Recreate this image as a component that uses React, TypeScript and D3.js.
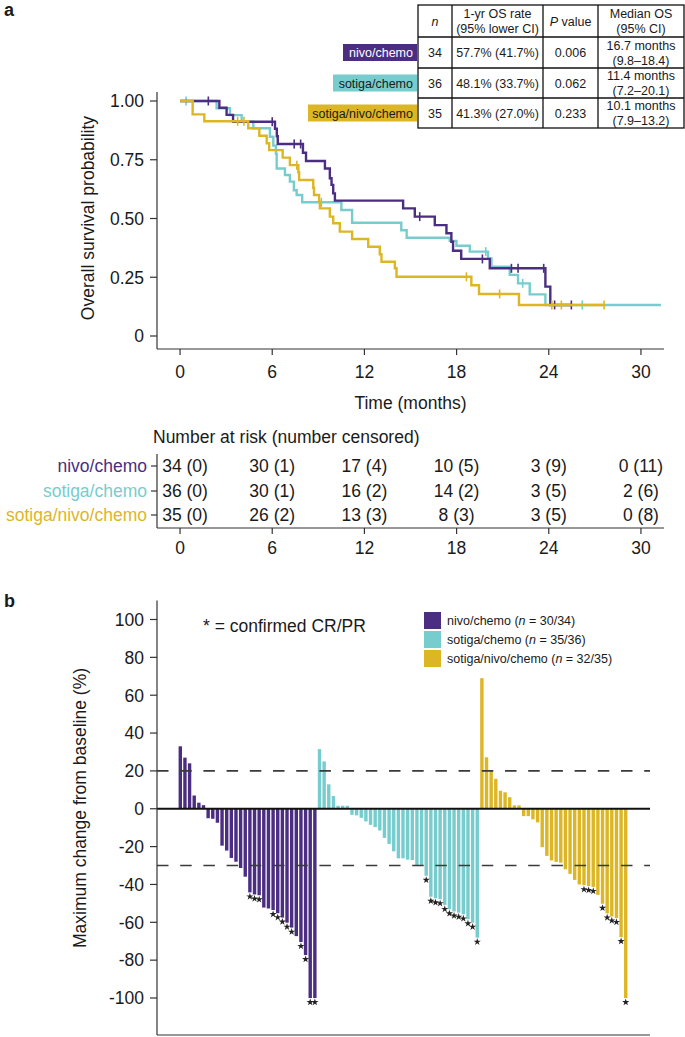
import React from "react";
import * as d3 from "d3";

const W = 685;
const H = 1037;
const FONT = "'Liberation Sans', Arial, Helvetica, sans-serif";

const groups = ["nivo/chemo", "sotiga/chemo", "sotiga/nivo/chemo"];
const groupColors = ["#4b2d82", "#77cdcd", "#ddb625"];
const boxTextColors = ["#ffffff", "#1a1a1a", "#1a1a1a"];

// ---- KM data (time in months, survival after each drop) ----
const nivoSteps: [number, number][] = [[2.56, 0.971], [3.03, 0.941], [3.45, 0.912], [6.18, 0.882], [6.3, 0.85], [6.36, 0.817], [8.0, 0.78], [8.2, 0.745], [9.43, 0.713], [9.75, 0.671], [9.86, 0.643], [9.97, 0.607], [10.08, 0.576], [14.52, 0.543], [15.28, 0.508], [16.58, 0.472], [17.34, 0.437], [17.66, 0.401], [17.77, 0.363], [18.3, 0.328], [20.16, 0.288], [23.78, 0.21], [24.1, 0.132]];
const nivoCensor = [1.84, 6.0, 7.43, 7.85, 15.6, 19.68, 21.57, 22.0, 23.67, 24.38, 25.47];
const sotigaSteps: [number, number][] = [[2.38, 0.969], [3.25, 0.94], [4.01, 0.912], [4.77, 0.884], [5.85, 0.848], [6.07, 0.81], [6.24, 0.775], [6.29, 0.713], [6.83, 0.685], [7.15, 0.657], [7.41, 0.62], [7.59, 0.6], [7.95, 0.569], [10.5, 0.536], [11.2, 0.482], [14.4, 0.45], [14.75, 0.418], [17.55, 0.405], [17.99, 0.384], [18.86, 0.359], [20.05, 0.33], [20.27, 0.295], [21.46, 0.26], [22.0, 0.224], [22.76, 0.177], [23.78, 0.132]];
const sotigaCensor = [0.39, 9.2, 19.9, 22.3, 26.18];
const tripleSteps: [number, number][] = [[0.82, 0.943], [1.58, 0.914], [4.44, 0.884], [5.16, 0.852], [5.64, 0.82], [5.8, 0.791], [6.68, 0.759], [7.15, 0.727], [7.7, 0.697], [7.75, 0.664], [8.67, 0.631], [8.72, 0.6], [9.05, 0.572], [9.1, 0.543], [9.75, 0.508], [9.97, 0.48], [10.4, 0.444], [11.2, 0.413], [12.25, 0.38], [13.0, 0.348], [13.11, 0.316], [13.98, 0.288], [14.09, 0.252], [18.96, 0.216], [19.46, 0.179], [22.06, 0.132]];
const tripleCensor = [3.75, 4.16, 7.6, 18.64, 20.8, 24.2, 24.82, 27.6];
const kmEnd = [25.47, 31.3, 27.6];

const kmYTicks = [0, 0.25, 0.5, 0.75, 1];
const kmYTickLabels = ["0", "0.25", "0.50", "0.75", "1.00"];
const timeTicks = [0, 6, 12, 18, 24, 30];

// ---- summary table ----
const tableN = [34, 36, 35];
const oneYrRate = ["57.7% (41.7%)", "48.1% (33.7%)", "41.3% (27.0%)"];
const pValues = ["0.006", "0.062", "0.233"];
const medianOS = ["16.7 months", "11.4 months", "10.1 months"];
const medianCI = ["(9.8–18.4)", "(7.2–20.1)", "(7.9–13.2)"];

// ---- number at risk ----
const nivoAtRisk = [34, 30, 17, 10, 3, 0];
const nivoCensored = [0, 1, 4, 5, 9, 11];
const sotigaAtRisk = [36, 30, 16, 14, 3, 2];
const sotigaCensored = [0, 1, 2, 2, 5, 6];
const tripleAtRisk = [35, 26, 13, 8, 3, 0];
const tripleCensored = [0, 2, 3, 3, 5, 8];

// ---- waterfall (best % change from baseline) ----
const nivoChange = [33, 27, 24, 7, 3.2, 1.9, -5, -5.3, -7.4, -19.5, -22.1, -26, -28, -31.3, -35.9, -44.2, -45.3, -45.7, -52.2, -52.7, -53.5, -55.2, -57.5, -60.2, -62.8, -67.3, -70.4, -77.3, -100, -100];
const nivoConfirmed = [15, 16, 17, 20, 21, 22, 23, 24, 26, 27, 28, 29];
const sotigaChange = [31.5, 25, 12.9, 6.7, 1.6, 1.6, 1.6, -3.2, -3.5, -4.8, -6.7, -8.5, -9.7, -11.5, -15.4, -18.6, -22.5, -26.2, -26.2, -26.9, -27.1, -30.2, -30.2, -35.4, -46.5, -47.3, -47.8, -50.8, -53.1, -54.3, -54.9, -55.8, -58.4, -60.2, -68.1];
const sotigaConfirmed = [23, 24, 25, 26, 27, 28, 29, 30, 31, 32, 33, 34];
const tripleChange = [69, 27.2, 20, 15.8, 9.5, 8.7, 6.1, 1.8, 1.8, -3.9, -3.9, -5.6, -7.2, -20.3, -24.9, -27.3, -28.1, -28.5, -32, -34.4, -37.6, -40, -40.4, -40.8, -41.3, -45.5, -50.2, -55.3, -56.9, -57.7, -67.8, -100];
const tripleConfirmed = [22, 23, 24, 26, 27, 28, 29, 30, 31];
const evaluable = ["30/34", "35/36", "32/35"];
const wfTicks = [100, 80, 60, 40, 20, 0, -20, -40, -60, -80, -100];
const refLines = [20, -30];

const kmSeries = [
  { steps: nivoSteps, censor: nivoCensor, end: kmEnd[0], color: groupColors[0] },
  { steps: sotigaSteps, censor: sotigaCensor, end: kmEnd[1], color: groupColors[1] },
  { steps: tripleSteps, censor: tripleCensor, end: kmEnd[2], color: groupColors[2] },
];
const riskRows = [
  { atRisk: nivoAtRisk, censored: nivoCensored },
  { atRisk: sotigaAtRisk, censored: sotigaCensored },
  { atRisk: tripleAtRisk, censored: tripleCensored },
];
const wfGroups = [
  { values: nivoChange, confirmed: nivoConfirmed },
  { values: sotigaChange, confirmed: sotigaConfirmed },
  { values: tripleChange, confirmed: tripleConfirmed },
];

function survAt(steps: [number, number][], t: number) {
  let s = 1;
  for (const [ti, si] of steps) if (ti <= t) s = si;
  return s;
}

const fmtTick = (v: number) => (v < 0 ? "-" + Math.abs(v) : String(v));

export default function App() {
  // KM scales
  const kmX = d3.scaleLinear().domain([-1.5, 31.5]).range([157, 664]);
  const kmY = d3.scaleLinear().domain([0, 1]).range([336, 101]);
  const line = d3
    .line<[number, number]>()
    .x((d) => kmX(d[0]))
    .y((d) => kmY(d[1]))
    .curve(d3.curveStepAfter);
  const kmAxisY = 349;

  // table geometry
  const colX = [418, 452, 543, 598, 684];
  const rowY = [5, 37, 68, 98, 128];
  const boxLeft = [343, 333, 308];

  // risk table
  const riskRowY = [466, 491, 515];
  const riskAxisY = 528;

  // waterfall
  const wfX = d3.scaleLinear().domain([-5.02, 101.23]).range([157, 650]);
  const wfY = d3.scaleLinear().domain([-100, 100]).range([998, 619.5]);
  const star = d3.symbol().type(d3.symbolStar).size(16)() as string;

  const bars: { x: number; v: number; color: string; confirmed: boolean; key: string }[] = [];
  let idx = 0;
  wfGroups.forEach((g, gi) => {
    g.values.forEach((v, i) => {
      bars.push({ x: wfX(idx), v, color: groupColors[gi], confirmed: g.confirmed.includes(i), key: `${gi}-${i}` });
      idx++;
    });
  });

  const drawOrder = [1, 0, 2];
  const txt = { fontFamily: FONT, fill: "#1a1a1a" } as const;

  return (
    <>
      <style>{`body{margin:0}`}</style>
      <svg width={W} height={H} style={{ display: "block", background: "#fff" }} fontFamily={FONT}>
        {/* panel labels */}
        <text x={4} y={16} fontSize={18} fontWeight="bold" {...txt}>a</text>
        <text x={4} y={607} fontSize={18} fontWeight="bold" {...txt}>b</text>

        {/* ---------- KM summary table ---------- */}
        <g>
          {groups.map((g, i) => {
            const yc = (rowY[i + 1] + rowY[i + 2]) / 2;
            return (
              <g key={g}>
                <rect x={boxLeft[i]} y={yc - 8.5} width={417 - boxLeft[i]} height={17} fill={groupColors[i]} />
                <text x={413} y={yc + 4.5} fontSize={12.5} textAnchor="end" fill={boxTextColors[i]} fontFamily={FONT}>{g}</text>
              </g>
            );
          })}
          <rect x={colX[0]} y={rowY[0]} width={colX[4] - colX[0]} height={rowY[4] - rowY[0]} fill="none" stroke="#111" strokeWidth={1.3} />
          {colX.slice(1, 4).map((x) => (
            <line key={x} x1={x} x2={x} y1={rowY[0]} y2={rowY[4]} stroke="#111" strokeWidth={1.3} />
          ))}
          {rowY.slice(1, 4).map((y) => (
            <line key={y} x1={colX[0]} x2={colX[4]} y1={y} y2={y} stroke="#111" strokeWidth={1.3} />
          ))}
          {/* header */}
          {(() => {
            const cx = (c: number) => (colX[c] + colX[c + 1]) / 2;
            const yc = (rowY[0] + rowY[1]) / 2;
            return (
              <g fontSize={12.5} textAnchor="middle" {...txt}>
                <text x={cx(0)} y={yc + 4.5} fontStyle="italic">n</text>
                <text x={cx(1)} y={yc - 3}>1-yr OS rate</text>
                <text x={cx(1)} y={yc + 12}>(95% lower CI)</text>
                <text x={cx(2)} y={yc + 4.5}><tspan fontStyle="italic">P</tspan> value</text>
                <text x={cx(3)} y={yc - 3}>Median OS</text>
                <text x={cx(3)} y={yc + 12}>(95% CI)</text>
              </g>
            );
          })()}
          {groups.map((g, i) => {
            const cx = (c: number) => (colX[c] + colX[c + 1]) / 2;
            const yc = (rowY[i + 1] + rowY[i + 2]) / 2;
            return (
              <g key={g} fontSize={12.5} textAnchor="middle" {...txt}>
                <text x={cx(0)} y={yc + 4.5}>{tableN[i]}</text>
                <text x={cx(1)} y={yc + 4.5}>{oneYrRate[i]}</text>
                <text x={cx(2)} y={yc + 4.5}>{pValues[i]}</text>
                <text x={cx(3)} y={yc - 3}>{medianOS[i]}</text>
                <text x={cx(3)} y={yc + 12}>{medianCI[i]}</text>
              </g>
            );
          })}
        </g>

        {/* ---------- KM axes ---------- */}
        <line x1={157} x2={157} y1={92} y2={kmAxisY} stroke="#333" strokeWidth={1.2} />
        <line x1={157} x2={664} y1={kmAxisY} y2={kmAxisY} stroke="#333" strokeWidth={1.2} />
        {kmYTicks.map((t, i) => (
          <g key={t}>
            <line x1={150} x2={157} y1={kmY(t)} y2={kmY(t)} stroke="#333" strokeWidth={1.2} />
            <text x={144} y={kmY(t)} dy="0.36em" fontSize={17.5} textAnchor="end" {...txt}>{kmYTickLabels[i]}</text>
          </g>
        ))}
        {timeTicks.map((t) => (
          <g key={t}>
            <line x1={kmX(t)} x2={kmX(t)} y1={kmAxisY} y2={kmAxisY + 6} stroke="#333" strokeWidth={1.2} />
            <text x={kmX(t)} y={378} fontSize={17.5} textAnchor="middle" {...txt}>{t}</text>
          </g>
        ))}
        <text x={kmX(15)} y={409} fontSize={17.5} textAnchor="middle" {...txt}>Time (months)</text>
        <text transform={`translate(94,218) rotate(-90)`} fontSize={17.5} textAnchor="middle" {...txt}>Overall survival probability</text>

        {/* ---------- KM curves ---------- */}
        {drawOrder.map((si) => {
          const s = kmSeries[si];
          const pts: [number, number][] = [[0, 1], ...s.steps, [s.end, s.steps[s.steps.length - 1][1]]];
          return (
            <g key={si}>
              <path d={line(pts) as string} fill="none" stroke={s.color} strokeWidth={2.4} />
              {s.censor.map((c) => (
                <line key={c} x1={kmX(c)} x2={kmX(c)} y1={kmY(survAt(s.steps, c)) - 4.5} y2={kmY(survAt(s.steps, c)) + 4.5} stroke={s.color} strokeWidth={1.6} />
              ))}
            </g>
          );
        })}

        {/* ---------- Number at risk ---------- */}
        <text x={153} y={443} fontSize={17.5} {...txt}>Number at risk (number censored)</text>
        <line x1={157} x2={157} y1={454} y2={riskAxisY} stroke="#333" strokeWidth={1.2} />
        <line x1={157} x2={664} y1={riskAxisY} y2={riskAxisY} stroke="#333" strokeWidth={1.2} />
        {riskRows.map((r, i) => (
          <g key={i}>
            <line x1={151} x2={157} y1={riskRowY[i]} y2={riskRowY[i]} stroke="#333" strokeWidth={1.2} />
            <text x={147} y={riskRowY[i]} dy="0.36em" fontSize={17.5} textAnchor="end" fill={groupColors[i]} fontFamily={FONT}>{groups[i]}</text>
            {timeTicks.map((t, j) => (
              <text key={t} x={kmX(t) + (j === 0 ? 5 : 0)} y={riskRowY[i]} dy="0.36em" fontSize={17.5} textAnchor="middle" {...txt}>
                {`${r.atRisk[j]} (${r.censored[j]})`}
              </text>
            ))}
          </g>
        ))}
        {timeTicks.map((t) => (
          <g key={t}>
            <line x1={kmX(t)} x2={kmX(t)} y1={riskAxisY} y2={riskAxisY + 6} stroke="#333" strokeWidth={1.2} />
            <text x={kmX(t)} y={554} fontSize={17.5} textAnchor="middle" {...txt}>{t}</text>
          </g>
        ))}

        {/* ---------- Waterfall ---------- */}
        {bars.map((b) => (
          <rect key={b.key} x={b.x - 1.7} width={3.4} y={wfY(Math.max(0, b.v))} height={Math.abs(wfY(b.v) - wfY(0))} fill={b.color} />
        ))}
        {bars.filter((b) => b.confirmed).map((b) => (
          <path key={"s" + b.key} d={star} transform={`translate(${b.x},${wfY(b.v) + 4.2})`} fill="#222" />
        ))}
        {refLines.map((r) => (
          <line key={r} x1={157} x2={650} y1={wfY(r)} y2={wfY(r)} stroke="#3a3a3a" strokeWidth={1.6} strokeDasharray="11.5,11.7" />
        ))}
        <line x1={157} x2={650} y1={wfY(0)} y2={wfY(0)} stroke="#111" strokeWidth={2} />
        <line x1={157} x2={157} y1={wfY(110)} y2={1035} stroke="#333" strokeWidth={1.2} />
        <line x1={157} x2={650} y1={1035} y2={1035} stroke="#333" strokeWidth={1.2} />
        {wfTicks.map((t) => (
          <g key={t}>
            <line x1={150} x2={157} y1={wfY(t)} y2={wfY(t)} stroke="#333" strokeWidth={1.2} />
            <text x={144} y={wfY(t)} dy="0.36em" fontSize={17.5} textAnchor="end" {...txt}>{fmtTick(t)}</text>
          </g>
        ))}
        <text transform={`translate(86,808) rotate(-90)`} fontSize={17.5} textAnchor="middle" {...txt}>Maximum change from baseline (%)</text>
        <text x={203} y={632} fontSize={17.5} {...txt}>* = confirmed CR/PR</text>
        {groups.map((g, i) => (
          <g key={g}>
            <rect x={424} y={612 + 19 * i} width={17} height={17} fill={groupColors[i]} />
            <text x={447} y={625 + 19 * i} fontSize={12.5} {...txt}>
              {g} (<tspan fontStyle="italic">n</tspan> = {evaluable[i]})
            </text>
          </g>
        ))}
      </svg>
    </>
  );
}
